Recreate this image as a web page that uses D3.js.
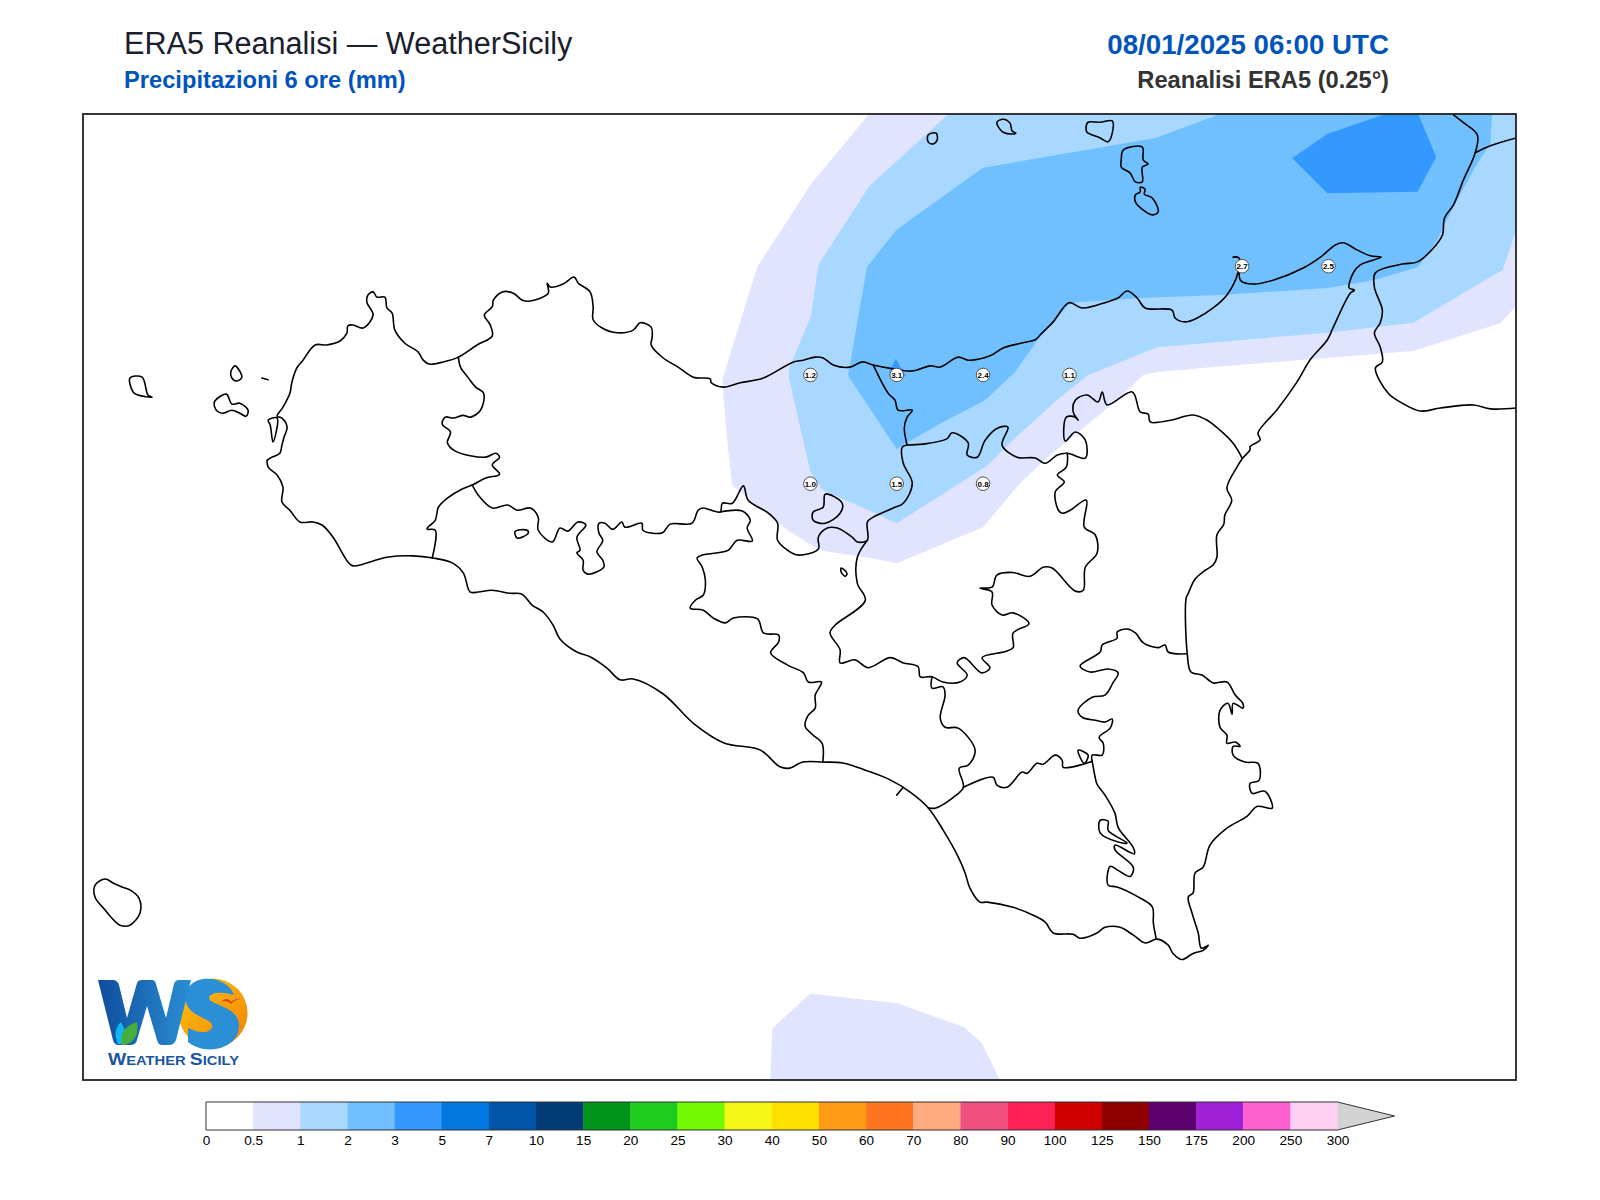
<!DOCTYPE html>
<html>
<head>
<meta charset="UTF-8">
<title>ERA5 Reanalisi - WeatherSicily</title>
<script src="https://d3js.org/d3.v7.min.js"></script>
<style>
    body { margin: 0; background: #fff; }
    text { font-family: "Liberation Sans", Arial, sans-serif; }
    .border { fill: none; stroke: #000; stroke-width: 1.6px; stroke-linejoin: round; stroke-linecap: round; }
</style>
</head>
<body>
<svg id="chart" width="1600" height="1200"></svg>
<script>
// colour bar
var levelLabels = ["0","0.5","1","2","3","5","7","10","15","20","25","30","40","50","60","70","80","90","100","125","150","175","200","250","300"];
var levelColors = ["#ffffff","#e0e4ff","#a8d8ff","#70c0ff","#3399ff","#0078e0","#0055a8","#033a78","#00921a","#1ccc1c","#72f800","#f4f814","#ffe100","#ff9b14","#ff7420","#ffaa80","#f05080","#ff2255","#d00000","#900000","#5c0070","#a020d8","#ff60d0","#ffd0f4"];

// grid point values, mm in 6 hours
var stationLon = [14.0,14.25,14.5,14.75,14.0,14.25,14.5,15.25,15.5];
var stationLat = [38.0,38.0,38.0,38.0,37.75,37.75,37.75,38.25,38.25];
var stationVal = ["1.2","3.1","2.4","1.1","1.0","1.5","0.8","2.7","2.5"];

// filled precipitation areas, lon/lat
var rain05North = [[14.170,38.600],[14.002,38.439],[13.846,38.248],[13.745,37.989],[13.748,37.954],[13.762,37.828],[13.774,37.747],[13.835,37.705],[13.934,37.643],[14.028,37.597],[14.173,37.579],[14.250,37.567],[14.500,37.650],[14.607,37.751],[14.694,37.816],[14.790,37.878],[14.877,37.935],[14.964,38.000],[15.004,38.007],[15.158,38.018],[15.746,38.055],[15.997,38.119],[16.043,38.158],[16.043,38.600]];
var rain05South = [[13.884,36.379],[13.890,36.498],[14.000,36.578],[14.255,36.555],[14.445,36.500],[14.497,36.463],[14.549,36.379]];
var rain1 = [[14.400,38.600],[14.170,38.434],[14.023,38.253],[14.002,38.136],[13.938,38.014],[13.938,37.993],[14.000,37.777],[14.037,37.735],[14.188,37.682],[14.250,37.659],[14.512,37.791],[14.578,37.844],[14.723,37.949],[14.805,38.000],[15.004,38.064],[15.497,38.097],[15.746,38.120],[15.969,38.225],[16.004,38.241],[16.043,38.333],[16.043,38.600]];
var rain2 = [[14.498,38.476],[14.248,38.333],[14.164,38.248],[14.127,38.081],[14.109,37.998],[14.250,37.830],[14.280,37.844],[14.384,37.892],[14.506,37.942],[14.593,38.007],[14.659,38.081],[14.752,38.166],[14.955,38.177],[15.186,38.184],[15.497,38.200],[15.630,38.218],[15.760,38.248],[15.815,38.311],[15.862,38.386],[15.925,38.478],[15.969,38.533],[15.974,38.600],[15.187,38.600],[14.999,38.545]];
var rain3North = [[15.395,38.499],[15.497,38.554],[15.664,38.600],[15.760,38.600],[15.812,38.501],[15.758,38.421],[15.497,38.418]];
var rain3Small = [[14.247,38.037],[14.276,37.998],[14.250,37.984],[14.228,38.007]];

// coast of Sicily, clockwise from Marsala
var sicilyCoast = [[12.427,37.804],[12.441,37.811],[12.464,37.820],[12.470,37.839],[12.476,37.857],[12.485,37.880],[12.470,37.901],[12.456,37.905],[12.473,37.926],[12.493,37.958],[12.499,37.984],[12.513,38.016],[12.531,38.034],[12.566,38.069],[12.600,38.069],[12.638,38.078],[12.658,38.096],[12.661,38.113],[12.676,38.115],[12.705,38.108],[12.734,38.138],[12.716,38.167],[12.719,38.184],[12.734,38.191],[12.745,38.179],[12.768,38.179],[12.774,38.154],[12.789,38.142],[12.797,38.103],[12.826,38.073],[12.864,38.053],[12.879,38.034],[12.896,38.025],[12.937,38.030],[12.981,38.041],[13.035,38.069],[13.079,38.090],[13.073,38.115],[13.056,38.138],[13.079,38.157],[13.082,38.172],[13.108,38.191],[13.140,38.188],[13.166,38.172],[13.189,38.170],[13.241,38.188],[13.238,38.211],[13.247,38.202],[13.284,38.209],[13.316,38.225],[13.328,38.211],[13.362,38.191],[13.371,38.157],[13.371,38.127],[13.397,38.108],[13.441,38.097],[13.487,38.103],[13.507,38.120],[13.539,38.110],[13.542,38.087],[13.539,38.069],[13.574,38.039],[13.617,38.018],[13.661,37.995],[13.710,37.991],[13.713,37.982],[13.748,37.972],[13.797,37.982],[13.864,37.993],[13.951,38.030],[13.980,38.034],[14.014,38.041],[14.037,38.039],[14.066,38.023],[14.115,38.018],[14.150,38.030],[14.182,38.023],[14.240,38.014],[14.295,38.009],[14.347,38.021],[14.376,38.018],[14.428,38.041],[14.457,38.034],[14.520,38.044],[14.558,38.062],[14.616,38.074],[14.651,38.081],[14.665,38.092],[14.703,38.122],[14.749,38.166],[14.787,38.154],[14.859,38.168],[14.891,38.177],[14.917,38.193],[14.946,38.177],[14.969,38.154],[15.047,38.149],[15.056,38.131],[15.085,38.122],[15.120,38.131],[15.166,38.154],[15.206,38.184],[15.238,38.235],[15.241,38.269],[15.224,38.271],[15.241,38.269],[15.245,38.218],[15.282,38.209],[15.340,38.218],[15.427,38.246],[15.477,38.271],[15.520,38.299],[15.543,38.304],[15.584,38.287],[15.621,38.274],[15.653,38.271],[15.592,38.253],[15.572,38.235],[15.560,38.200],[15.575,38.195],[15.563,38.188],[15.514,38.110],[15.497,38.081],[15.447,38.035],[15.409,37.984],[15.351,37.920],[15.296,37.867],[15.302,37.851],[15.273,37.835],[15.273,37.828],[15.252,37.809],[15.235,37.788],[15.206,37.740],[15.220,37.712],[15.200,37.678],[15.197,37.657],[15.177,37.632],[15.177,37.581],[15.166,37.563],[15.143,37.551],[15.114,37.531],[15.094,37.498],[15.088,37.487],[15.091,37.361],[15.102,37.317],[15.134,37.310],[15.166,37.292],[15.206,37.294],[15.230,37.264],[15.252,37.245],[15.252,37.234],[15.224,37.245],[15.221,37.220],[15.209,37.245],[15.186,37.229],[15.186,37.190],[15.206,37.172],[15.206,37.153],[15.230,37.156],[15.244,37.146],[15.224,37.146],[15.224,37.126],[15.258,37.110],[15.296,37.107],[15.299,37.068],[15.273,37.061],[15.279,37.038],[15.316,37.043],[15.337,37.004],[15.293,37.008],[15.264,36.985],[15.206,36.958],[15.157,36.919],[15.137,36.868],[15.114,36.855],[15.108,36.809],[15.094,36.800],[15.105,36.763],[15.123,36.717],[15.132,36.682],[15.152,36.689],[15.137,36.677],[15.108,36.670],[15.076,36.656],[15.050,36.670],[15.036,36.689],[15.004,36.703],[14.970,36.694],[14.935,36.712],[14.897,36.730],[14.853,36.730],[14.830,36.717],[14.781,36.705],[14.761,36.714],[14.703,36.717],[14.680,36.742],[14.645,36.758],[14.587,36.776],[14.512,36.788],[14.491,36.788],[14.462,36.820],[14.448,36.855],[14.428,36.892],[14.384,36.954],[14.341,37.005],[14.289,37.041],[14.231,37.069],[14.164,37.090],[14.094,37.108],[14.036,37.110],[13.978,37.110],[13.940,37.096],[13.912,37.099],[13.854,37.138],[13.750,37.154],[13.663,37.198],[13.573,37.267],[13.487,37.301],[13.449,37.299],[13.411,37.326],[13.362,37.352],[13.324,37.363],[13.275,37.393],[13.255,37.425],[13.226,37.455],[13.194,37.471],[13.165,37.496],[13.130,37.498],[13.078,37.505],[13.038,37.501],[13.015,37.501],[12.995,37.545],[12.963,37.568],[12.908,37.579],[12.850,37.584],[12.774,37.581],[12.676,37.561],[12.661,37.570],[12.618,37.627],[12.586,37.655],[12.560,37.662],[12.522,37.662],[12.493,37.689],[12.470,37.708],[12.473,37.742],[12.456,37.770],[12.430,37.788],[12.427,37.804]];
var calabriaCoast = [[15.862,38.598],[15.891,38.580],[15.931,38.552],[15.925,38.511],[15.891,38.449],[15.862,38.391],[15.836,38.361],[15.830,38.322],[15.804,38.292],[15.758,38.260],[15.714,38.255],[15.636,38.235],[15.633,38.202],[15.656,38.149],[15.650,38.120],[15.633,38.097],[15.650,38.064],[15.656,38.030],[15.636,38.016],[15.673,37.958],[15.714,37.935],[15.766,37.917],[15.824,37.924],[15.920,37.931],[15.969,37.922],[16.044,37.924]];
var calabriaBorder = [[15.925,38.511],[15.969,38.527],[16.044,38.545]];

// islands, lagoons and lakes
var closedShapes = [
    [[12.030,37.993],[12.065,37.995],[12.082,37.954],[12.094,37.949],[12.053,37.954],[12.039,37.961]],
    [[12.334,38.021],[12.354,37.995],[12.340,37.986],[12.325,37.993],[12.322,38.007]],
    [[12.274,37.937],[12.309,37.956],[12.325,37.933],[12.348,37.935],[12.372,37.919],[12.366,37.905],[12.348,37.912],[12.325,37.919],[12.299,37.912],[12.282,37.917]],
    [[12.430,37.896],[12.456,37.901],[12.444,37.846],[12.436,37.885]],
    [[14.341,38.552],[14.364,38.556],[14.367,38.540],[14.355,38.531],[14.341,38.536]],
    [[14.540,38.581],[14.558,38.588],[14.578,38.579],[14.584,38.561],[14.595,38.556],[14.587,38.554],[14.558,38.558],[14.546,38.568]],
    [[14.804,38.581],[14.839,38.581],[14.874,38.584],[14.874,38.556],[14.862,38.536],[14.839,38.545],[14.801,38.558],[14.798,38.568]],
    [[14.906,38.517],[14.961,38.524],[14.964,38.494],[14.978,38.485],[14.961,38.478],[14.961,38.444],[14.941,38.444],[14.926,38.464],[14.900,38.478],[14.900,38.494]],
    [[14.955,38.432],[14.969,38.427],[14.967,38.416],[14.990,38.407],[15.007,38.375],[14.990,38.368],[14.964,38.379],[14.941,38.398],[14.941,38.414],[14.955,38.421]],
    [[11.929,36.827],[11.958,36.841],[11.981,36.832],[12.007,36.823],[12.030,36.816],[12.056,36.797],[12.059,36.763],[12.030,36.735],[12.001,36.735],[11.978,36.751],[11.958,36.770],[11.929,36.799]],
    [[13.145,37.640],[13.180,37.643],[13.183,37.636],[13.151,37.625]],
    [[14.043,37.726],[14.092,37.705],[14.086,37.682],[14.043,37.659],[14.008,37.666],[14.008,37.685],[14.037,37.696]],
    [[14.089,37.556],[14.106,37.544],[14.101,37.537],[14.089,37.547]],
    [[14.775,37.137],[14.804,37.126],[14.793,37.107]],
    [[14.839,36.976],[14.862,36.974],[14.862,36.953],[14.917,36.924],[14.891,36.926],[14.839,36.947]]
];

// province borders
var borderLines = [
    [[12.981,38.041],[12.987,38.018],[13.008,37.995],[13.031,37.972],[13.054,37.958],[13.045,37.919],[13.015,37.903],[12.995,37.907],[12.966,37.901],[12.943,37.903],[12.934,37.887],[12.958,37.869],[12.949,37.844],[12.972,37.825],[13.060,37.811],[13.089,37.820],[13.100,37.811],[13.079,37.793],[13.100,37.772],[13.060,37.763],[13.021,37.747],[12.992,37.738],[12.949,37.717],[12.923,37.696],[12.914,37.666],[12.890,37.646],[12.914,37.643],[12.905,37.579]],
    [[13.021,37.747],[13.038,37.724],[13.079,37.694],[13.123,37.701],[13.152,37.689],[13.189,37.694],[13.212,37.673],[13.212,37.643],[13.253,37.616],[13.275,37.648],[13.298,37.641],[13.327,37.662],[13.350,37.655],[13.324,37.627],[13.333,37.597],[13.324,37.591],[13.342,37.574],[13.342,37.551],[13.356,37.542],[13.402,37.558],[13.399,37.574],[13.382,37.593],[13.399,37.620],[13.388,37.636],[13.388,37.659],[13.405,37.659],[13.428,37.645],[13.454,37.662],[13.463,37.650],[13.512,37.659],[13.515,37.643],[13.544,37.636],[13.573,37.638],[13.594,37.657],[13.657,37.659],[13.675,37.689],[13.689,37.694],[13.739,37.685],[13.745,37.705],[13.774,37.705],[13.806,37.745],[13.820,37.712],[13.879,37.682],[13.905,37.659],[13.905,37.620],[13.934,37.597],[13.962,37.586],[14.023,37.600],[14.023,37.627],[14.049,37.648],[14.078,37.648],[14.121,37.627],[14.136,37.616],[14.165,37.620],[14.165,37.662],[14.182,37.673],[14.240,37.694],[14.269,37.705],[14.295,37.751],[14.269,37.797],[14.266,37.834],[14.280,37.839]],
    [[14.280,37.839],[14.272,37.878],[14.280,37.903],[14.295,37.919],[14.254,37.919],[14.245,37.942],[14.225,37.958],[14.182,38.023]],
    [[14.280,37.839],[14.326,37.841],[14.395,37.853],[14.410,37.867],[14.457,37.844],[14.454,37.816],[14.483,37.811],[14.506,37.850],[14.543,37.878],[14.572,37.880],[14.555,37.839],[14.598,37.811],[14.651,37.809],[14.680,37.797],[14.715,37.816],[14.744,37.820],[14.796,37.809],[14.796,37.850],[14.767,37.869],[14.738,37.848],[14.741,37.903],[14.767,37.903],[14.775,37.896],[14.761,37.915],[14.767,37.942],[14.801,37.954],[14.833,37.938],[14.845,37.961],[14.859,37.931],[14.932,37.961],[14.955,37.915],[14.978,37.910],[14.984,37.892],[15.042,37.896],[15.108,37.908],[15.149,37.896],[15.186,37.873],[15.224,37.843],[15.250,37.809]],
    [[14.744,37.820],[14.741,37.788],[14.715,37.770],[14.735,37.754],[14.709,37.731],[14.718,37.689],[14.729,37.682],[14.752,37.689],[14.799,37.712],[14.793,37.650],[14.825,37.632],[14.830,37.590],[14.796,37.558],[14.790,37.505],[14.767,37.503],[14.700,37.556],[14.674,37.558],[14.636,37.537],[14.584,37.546],[14.540,37.540],[14.526,37.512],[14.491,37.510],[14.526,37.501],[14.526,37.471],[14.555,37.448],[14.587,37.453],[14.633,37.428],[14.587,37.407],[14.587,37.373],[14.564,37.364],[14.497,37.350],[14.520,37.327],[14.497,37.315],[14.445,37.350],[14.425,37.338],[14.454,37.310],[14.433,37.294],[14.384,37.294],[14.352,37.306],[14.318,37.306],[14.312,37.329],[14.269,37.338],[14.231,37.350],[14.167,37.327],[14.129,37.345],[14.086,37.338],[14.086,37.368],[14.057,37.407],[14.072,37.425],[14.159,37.482],[14.136,37.521],[14.136,37.581],[14.165,37.620]],
    [[13.739,37.685],[13.803,37.687],[13.826,37.666],[13.817,37.648],[13.832,37.618],[13.788,37.620],[13.762,37.597],[13.687,37.586],[13.672,37.579],[13.687,37.558],[13.696,37.528],[13.690,37.494],[13.667,37.482],[13.652,37.464],[13.690,37.459],[13.719,37.441],[13.754,37.430],[13.777,37.441],[13.847,37.439],[13.864,37.407],[13.908,37.402],[13.908,37.386],[13.885,37.361],[13.934,37.333],[13.980,37.315],[13.994,37.294],[14.032,37.294],[14.014,37.264],[14.014,37.234],[13.994,37.218],[13.985,37.192],[14.008,37.172],[14.034,37.153],[14.036,37.110]],
    [[14.352,37.306],[14.352,37.280],[14.384,37.283],[14.390,37.264],[14.376,37.211],[14.390,37.190],[14.428,37.188],[14.477,37.137],[14.457,37.103],[14.431,37.096],[14.443,37.052],[14.414,37.029],[14.361,37.004],[14.341,37.005]],
    [[14.443,37.052],[14.529,37.075],[14.540,37.057],[14.569,37.052],[14.613,37.087],[14.627,37.084],[14.656,37.107],[14.674,37.105],[14.709,37.126],[14.729,37.114],[14.732,37.098],[14.790,37.105],[14.816,37.112]],
    [[14.816,37.112],[14.825,37.073],[14.830,37.059],[14.853,37.034],[14.882,36.992],[14.891,36.960],[14.935,36.913],[14.938,36.899],[14.882,36.919],[14.882,36.908],[14.935,36.868],[14.926,36.847],[14.891,36.861],[14.868,36.870],[14.862,36.827],[14.888,36.823],[14.949,36.800],[14.990,36.777],[14.993,36.740],[15.001,36.705]],
    [[14.816,37.112],[14.816,37.126],[14.845,37.126],[14.848,37.153],[14.836,37.167],[14.868,37.188],[14.874,37.209],[14.853,37.202],[14.825,37.206],[14.787,37.213],[14.775,37.229],[14.816,37.259],[14.853,37.264],[14.876,37.292],[14.891,37.315],[14.862,37.324],[14.810,37.317],[14.781,37.331],[14.839,37.363],[14.845,37.379],[14.888,37.395],[14.888,37.409],[14.917,37.416],[14.941,37.407],[14.964,37.384],[15.007,37.373],[15.027,37.379],[15.036,37.363],[15.091,37.359]],
    [[14.250,37.034],[14.269,37.052]],
    [[12.412,37.993],[12.430,37.989]]
];

var svg = d3.select("#chart");

var x = d3.scaleLinear().domain([11.894, 16.043]).range([83, 1516]);
var y = d3.scaleLinear().domain([38.6, 36.379]).range([114, 1080]);
var line = d3.line().x(function (d) { return x(d[0]); }).y(function (d) { return y(d[1]); });
// coasts and borders are drawn rounded, the rain areas keep their corners
var shore = d3.line().x(line.x()).y(line.y()).curve(d3.curveCatmullRom.alpha(0.5));
var shoreClosed = d3.line().x(line.x()).y(line.y()).curve(d3.curveCatmullRomClosed.alpha(0.5));

// fill colour for an area = the band above its lower level
var band = d3.scaleOrdinal().domain(levelLabels.slice(0, -1)).range(levelColors);

svg.append("clipPath").attr("id", "mapclip").append("rect")
    .attr("x", x.range()[0]).attr("y", y.range()[0])
    .attr("width", x.range()[1] - x.range()[0])
    .attr("height", y.range()[1] - y.range()[0]);

var map = svg.append("g").attr("clip-path", "url(#mapclip)");

var areas = [
    { level: "0.5", pts: rain05North },
    { level: "0.5", pts: rain05South },
    { level: "1", pts: rain1 },
    { level: "2", pts: rain2 },
    { level: "3", pts: rain3North },
    { level: "3", pts: rain3Small }
];
map.selectAll("path.rain").data(areas).enter().append("path")
    .attr("class", "rain")
    .attr("d", function (d) { return line(d.pts) + "Z"; })
    .attr("fill", function (d) { return band(d.level); });

var openLines = [sicilyCoast, calabriaCoast, calabriaBorder].concat(borderLines);
map.selectAll("path.open").data(openLines).enter().append("path")
    .attr("class", "border open")
    .attr("d", shore);
map.selectAll("path.closed").data(closedShapes).enter().append("path")
    .attr("class", "border closed")
    .attr("d", shoreClosed);

// value markers
var stations = svg.append("g").selectAll("g").data(stationVal).enter().append("g")
    .attr("transform", function (d, i) { return "translate(" + x(stationLon[i]) + "," + y(stationLat[i]) + ")"; });
stations.append("circle").attr("r", 6.8).attr("fill", "#fff").attr("stroke", "#555").attr("stroke-width", 1);
stations.append("text").text(function (d) { return d; })
    .attr("text-anchor", "middle").attr("dy", "0.35em")
    .attr("font-size", 8).attr("font-weight", "bold").attr("fill", "#000");

// frame
svg.append("rect")
    .attr("x", x.range()[0]).attr("y", y.range()[0])
    .attr("width", x.range()[1] - x.range()[0])
    .attr("height", y.range()[1] - y.range()[0])
    .attr("fill", "none").attr("stroke", "#222").attr("stroke-width", 1.8);

// titles
svg.append("text").text("ERA5 Reanalisi — WeatherSicily")
    .attr("x", 124).attr("y", 54).attr("font-size", 30.6).attr("fill", "#1a202c");
svg.append("text").text("Precipitazioni 6 ore (mm)")
    .attr("x", 124).attr("y", 88).attr("font-size", 23.7).attr("font-weight", "bold").attr("fill", "#0055bb");
svg.append("text").text("08/01/2025 06:00 UTC")
    .attr("x", 1389).attr("y", 54).attr("text-anchor", "end")
    .attr("font-size", 27.7).attr("font-weight", "bold").attr("fill", "#0055bb");
svg.append("text").text("Reanalisi ERA5 (0.25°)")
    .attr("x", 1389).attr("y", 88).attr("text-anchor", "end")
    .attr("font-size", 23.7).attr("font-weight", "bold").attr("fill", "#333");

// colour bar
var barTop = 1102, barH = 28;
var barX = d3.scalePoint().domain(levelLabels).range([206, 1337.5]);
var bar = svg.append("g");
bar.selectAll("rect").data(levelColors).enter().append("rect")
    .attr("x", function (d, i) { return barX(levelLabels[i]); })
    .attr("y", barTop)
    .attr("width", barX.step() + 0.3)
    .attr("height", barH)
    .attr("fill", function (d) { return d; });
var barEnd = barX("300"), barStart = barX("0");
bar.append("path")
    .attr("d", d3.line()([[barEnd, barTop], [barEnd + 57, barTop + barH / 2], [barEnd, barTop + barH]]))
    .attr("fill", "#d3d3d3");
bar.append("path")
    .attr("d", d3.line()([[barStart, barTop], [barEnd, barTop], [barEnd + 57, barTop + barH / 2], [barEnd, barTop + barH], [barStart, barTop + barH]]) + "Z")
    .attr("fill", "none").attr("stroke", "#333").attr("stroke-width", 1);

var barAxis = d3.axisBottom(barX).tickSize(0).tickPadding(5);
var axisG = svg.append("g").attr("transform", "translate(0," + (barTop + barH) + ")").call(barAxis);
axisG.select(".domain").remove();
axisG.selectAll("text").attr("font-size", 13.6).attr("fill", "#000")
    .style("font-family", '"Liberation Sans", Arial, sans-serif');

// logo
var defs = svg.append("defs");
var sun = defs.append("linearGradient").attr("id", "sun").attr("x1", 0).attr("y1", 0).attr("x2", 1).attr("y2", 1);
sun.append("stop").attr("offset", "0").attr("stop-color", "#ffc70a");
sun.append("stop").attr("offset", "1").attr("stop-color", "#f07f0a");
var wBlue = defs.append("linearGradient").attr("id", "wblue").attr("x1", 0).attr("y1", 0).attr("x2", 1).attr("y2", 0);
wBlue.append("stop").attr("offset", "0").attr("stop-color", "#0f4c9e");
wBlue.append("stop").attr("offset", "1").attr("stop-color", "#2a8fd4");

var logo = svg.append("g");
logo.append("circle").attr("cx", 213).attr("cy", 1013).attr("r", 34.5).attr("fill", "url(#sun)");
logo.append("path").attr("d", "M203,979 C183,982 180,1004 194,1013 C205,1020 214,1021 212,1028 C207,1035 197,1032 188,1028 L188,1042 C205,1056 238,1050 239,1026 C239,1008 216,1006 210,1000 C206,994 218,990 234,995 C231,985 218,977 203,979 Z")
    .attr("fill", "#2a8fd4");
logo.append("path").attr("d", "M98,980 L114,980 Q118,981 119,985 L127,1018 L137,983 Q138,980 142,980 L152,980 Q155,980 156,984 L166,1018 L174,984 Q175,980 179,980 L191,980 L176,1040 Q174,1045 169,1045 L162,1045 Q158,1045 157,1040 L147,1006 L137,1040 Q136,1045 130,1045 L119,1045 Q114,1045 113,1040 Z")
    .attr("fill", "url(#wblue)");
logo.append("path").attr("d", "M118,1044 Q112,1030 121,1022 Q128,1034 127,1044 Z").attr("fill", "#12b5f5");
logo.append("path").attr("d", "M122,1045 Q118,1028 137,1022 Q140,1040 125,1045 Z").attr("fill", "#46ad3c");
logo.append("path").attr("d", "M221,1002 Q227,996 231,1002 Q236,998 241,999 Q235,999 231,1004 Q227,999 221,1002 Z").attr("fill", "#c8401a");
var logoText = logo.append("text")
    .attr("x", 108).attr("y", 1065).attr("font-weight", "bold")
    .attr("textLength", 131).attr("lengthAdjust", "spacingAndGlyphs").attr("fill", "#1a55a3");
logoText.append("tspan").attr("font-size", 17).text("W");
logoText.append("tspan").attr("font-size", 13).text("EATHER ");
logoText.append("tspan").attr("font-size", 17).text("S");
logoText.append("tspan").attr("font-size", 13).text("ICILY");
</script>
</body>
</html>
